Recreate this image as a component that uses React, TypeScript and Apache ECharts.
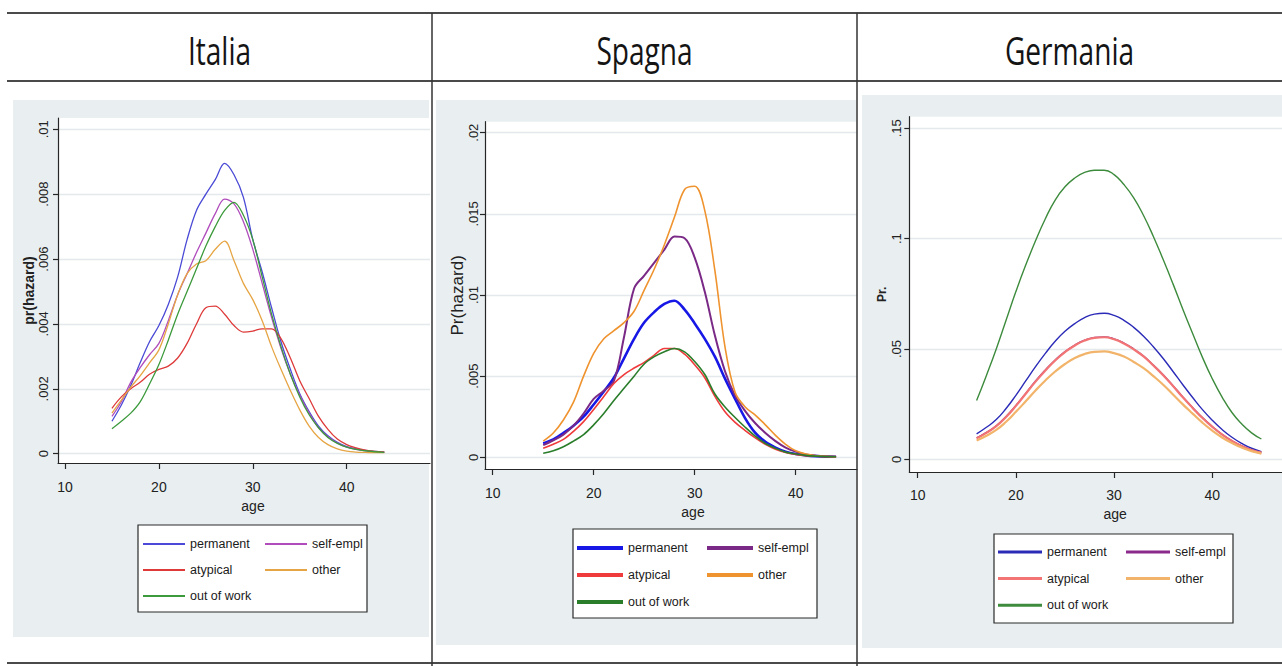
import React, { useEffect, useRef } from "react";
import * as echarts from "echarts";

// ---------------- DATA ----------------
const SERIES_NAMES = ["permanent", "self-empl", "atypical", "other", "out of work"];
const X_TICKS = [10, 20, 30, 40];

// Italia: hazard in thousandths (x 0.001), ages 15..44
const AGES_IT = [15, 16, 17, 18, 19, 20, 21, 22, 23, 24, 25, 26, 27, 28, 29, 30, 31, 32, 33, 34, 35, 36, 37, 38, 39, 40, 41, 42, 43, 44];
const IT_PERMANENT = [1.0, 1.5, 2.1, 2.8, 3.45, 3.95, 4.6, 5.45, 6.6, 7.5, 8.0, 8.45, 8.95, 8.6, 7.9, 6.6, 5.6, 4.5, 3.45, 2.6, 1.85, 1.3, 0.85, 0.55, 0.35, 0.22, 0.15, 0.1, 0.07, 0.05];
const IT_SELFEMPL = [1.15, 1.6, 2.2, 2.65, 3.05, 3.4, 4.1, 4.9, 5.55, 6.2, 6.8, 7.4, 7.85, 7.7, 7.15, 6.3, 5.25, 4.2, 3.25, 2.45, 1.8, 1.25, 0.8, 0.52, 0.33, 0.2, 0.13, 0.09, 0.06, 0.05];
const IT_ATYPICAL = [1.4, 1.75, 2.0, 2.2, 2.45, 2.6, 2.7, 2.95, 3.4, 4.0, 4.5, 4.55, 4.3, 3.95, 3.75, 3.78, 3.85, 3.85, 3.55, 2.95, 2.25, 1.7, 1.15, 0.75, 0.45, 0.28, 0.18, 0.11, 0.07, 0.05];
const IT_OTHER = [1.25, 1.65, 2.05, 2.4, 2.8, 3.2, 4.0, 4.9, 5.55, 5.85, 5.95, 6.3, 6.55, 5.95, 5.25, 4.75, 4.1, 3.3, 2.6, 1.95, 1.35, 0.85, 0.5, 0.28, 0.15, 0.08, 0.05, 0.04, 0.03, 0.03];
const IT_OUTOFWORK = [0.77, 1.0, 1.25, 1.6, 2.15, 2.75, 3.5, 4.3, 5.0, 5.7, 6.4, 7.0, 7.5, 7.75, 7.35, 6.6, 5.45, 4.3, 3.3, 2.45, 1.75, 1.2, 0.8, 0.5, 0.32, 0.2, 0.13, 0.09, 0.06, 0.04];
const IT_YTICKS = [0, 0.002, 0.004, 0.006, 0.008, 0.01];

// Spagna: hazard in thousandths (x 0.001), ages 15..44
const AGES_ES = [15, 16, 17, 18, 19, 20, 21, 22, 23, 24, 25, 26, 27, 28, 29, 30, 31, 32, 33, 34, 35, 36, 37, 38, 39, 40, 41, 42, 43, 44];
const ES_PERMANENT = [0.85, 1.1, 1.5, 1.95, 2.5, 3.25, 4.05, 4.9, 6.1, 7.3, 8.3, 8.95, 9.45, 9.65, 9.1, 8.25, 7.3, 6.2, 4.85, 3.6, 2.4, 1.5, 0.95, 0.6, 0.35, 0.2, 0.12, 0.07, 0.04, 0.03];
const ES_SELFEMPL = [0.75, 1.05, 1.4, 1.95, 2.7, 3.6, 4.1, 4.7, 7.4, 10.4, 11.2, 12.0, 12.8, 13.6, 13.5, 12.3, 10.2, 7.5, 5.3, 3.8, 2.85, 2.1, 1.5, 1.0, 0.6, 0.35, 0.18, 0.1, 0.06, 0.04];
const ES_ATYPICAL = [0.55, 0.8, 1.1, 1.6, 2.2, 2.95, 3.75, 4.55, 5.1, 5.5, 5.85, 6.3, 6.7, 6.7, 6.35, 5.7, 4.9, 3.75, 2.8, 2.15, 1.65, 1.2, 0.8, 0.5, 0.3, 0.18, 0.1, 0.06, 0.04, 0.03];
const ES_OTHER = [1.0, 1.5, 2.3, 3.4, 5.0, 6.4, 7.3, 7.8, 8.3, 9.0, 10.3, 11.6, 13.1, 14.8, 16.5, 16.7, 15.2, 11.5, 6.8, 4.0, 3.1, 2.6, 2.0, 1.35, 0.8, 0.4, 0.2, 0.1, 0.06, 0.04];
const ES_OUTOFWORK = [0.25, 0.4, 0.65, 1.0, 1.4, 2.0, 2.7, 3.5, 4.25, 5.0, 5.75, 6.2, 6.5, 6.7, 6.5, 5.9, 5.1, 3.9, 3.1, 2.45, 1.85, 1.3, 0.85, 0.55, 0.32, 0.2, 0.12, 0.07, 0.04, 0.03];
const ES_YTICKS = [0, 0.005, 0.01, 0.015, 0.02];

// Germania: probability in hundredths (x 0.01), ages 16..45
const AGES_DE = [16, 17, 18, 19, 20, 21, 22, 23, 24, 25, 26, 27, 28, 29, 30, 31, 32, 33, 34, 35, 36, 37, 38, 39, 40, 41, 42, 43, 44, 45];
const DE_PERMANENT = [1.15, 1.45, 1.8, 2.3, 2.9, 3.55, 4.2, 4.8, 5.35, 5.8, 6.15, 6.42, 6.58, 6.62, 6.52, 6.3, 5.98, 5.58, 5.1, 4.57, 3.98, 3.38, 2.8, 2.25, 1.77, 1.35, 1.0, 0.72, 0.5, 0.35];
const DE_SELFEMPL = [0.97, 1.22, 1.52, 1.94, 2.44, 2.99, 3.55, 4.05, 4.5, 4.88, 5.18, 5.4, 5.52, 5.55, 5.46, 5.27, 5.0, 4.68, 4.27, 3.83, 3.34, 2.83, 2.35, 1.89, 1.49, 1.13, 0.84, 0.61, 0.43, 0.31];
const DE_ATYPICAL = [0.95, 1.2, 1.5, 1.92, 2.42, 2.97, 3.52, 4.02, 4.48, 4.86, 5.16, 5.38, 5.5, 5.53, 5.44, 5.25, 4.98, 4.66, 4.25, 3.81, 3.32, 2.81, 2.33, 1.87, 1.47, 1.12, 0.83, 0.6, 0.42, 0.3];
const DE_OTHER = [0.85, 1.07, 1.33, 1.7, 2.15, 2.63, 3.12, 3.57, 3.98, 4.32, 4.59, 4.77, 4.87, 4.89, 4.81, 4.66, 4.41, 4.13, 3.77, 3.38, 2.94, 2.49, 2.07, 1.66, 1.3, 0.99, 0.74, 0.53, 0.37, 0.26];
const DE_OUTOFWORK = [2.66, 3.8, 5.0, 6.3, 7.6, 8.8, 9.9, 10.9, 11.75, 12.35, 12.75, 13.0, 13.1, 13.1, 12.9, 12.45, 11.85, 11.05, 10.1, 9.05, 7.95, 6.8, 5.7, 4.62, 3.65, 2.82, 2.12, 1.6, 1.2, 0.92];
const DE_YTICKS = [0, 0.05, 0.1, 0.15];

// ---------------- STYLE / LAYOUT ----------------
const SANS = "'Liberation Sans', Arial, sans-serif";
const PANEL_BG = "#e9eff1";
const GRID_LINE = "#e3e9ec";
const AXIS_COLOR = "#262626";

const panels = [
  {
    title: "Italia", cx: 219.5,
    ages: AGES_IT, scale: 0.001, smooth: 0.35,
    values: [IT_PERMANENT, IT_SELFEMPL, IT_ATYPICAL, IT_OTHER, IT_OUTOFWORK],
    colors: ["#4a4ad6", "#b04cbc", "#de3a3a", "#e6a544", "#3c9a3c"],
    widths: [1.3, 1.3, 1.3, 1.3, 1.3],
    legendWidth: 2,
    yTicks: IT_YTICKS, yName: "pr(hazard)", yNameBold: true, yNameSize: 14, yNameGap: 19,
    panel: { x: 13, y: 100, w: 416, h: 537 },
    grid: { left: 58, top: 118, width: 372, height: 345 },
    xMin: 9.2545, xMax: 48.87, yMin: -0.000287, yMax: 0.010348,
    yLabelMargin: 8, xLabelMargin: 17, ageGap: 36, agePad: 18,
    legendBox: { x: 138, y: 525, w: 229, h: 87 },
    legendCols: [143, 265], legendTop: 536, legendGap: 10, itemWidth: 42,
  },
  {
    title: "Spagna", cx: 644.5,
    ages: AGES_ES, scale: 0.001, smooth: 0.35,
    values: [ES_PERMANENT, ES_SELFEMPL, ES_ATYPICAL, ES_OTHER, ES_OUTOFWORK],
    colors: ["#1717e6", "#7a2a86", "#ef3b3b", "#ef932f", "#2a7d2a"],
    widths: [2.6, 2, 1.6, 1.6, 1.6],
    legendWidth: 4,
    yTicks: ES_YTICKS, yName: "Pr(hazard)", yNameBold: false, yNameSize: 17, yNameGap: 17,
    panel: { x: 436, y: 100, w: 420, h: 545 },
    grid: { left: 485, top: 121.7, width: 372, height: 347.3 },
    xMin: 9.238, xMax: 46.07, yMin: -0.000721, yMax: 0.020678,
    yLabelMargin: 5, xLabelMargin: 17, ageGap: 35, agePad: 44,
    legendBox: { x: 573, y: 529, w: 244, h: 89 },
    legendCols: [577, 707], legendTop: 540, legendGap: 11, itemWidth: 46,
  },
  {
    title: "Germania", cx: 1069.5,
    ages: AGES_DE, scale: 0.01, smooth: 0.5,
    values: [DE_PERMANENT, DE_SELFEMPL, DE_ATYPICAL, DE_OTHER, DE_OUTOFWORK],
    colors: ["#2b2bb8", "#8a2a8a", "#f27474", "#f2b46a", "#3d8b3d"],
    widths: [1.4, 1.4, 2.2, 2.2, 1.4],
    legendWidth: 3,
    yTicks: DE_YTICKS, yName: "Pr.", yNameBold: true, yNameSize: 12, yNameGap: 21,
    panel: { x: 862, y: 95, w: 420, h: 553 },
    grid: { left: 909.3, top: 116.7, width: 372.7, height: 355.3 },
    xMin: 9.145, xMax: 47.1, yMin: -0.005755, yMax: 0.15526,
    yLabelMargin: 6, xLabelMargin: 16, ageGap: 34, agePad: 39,
    legendBox: { x: 994, y: 534, w: 239, h: 89 },
    legendCols: [998, 1126], legendTop: 544, legendGap: 10.6, itemWidth: 44,
  },
];

function fmtY(v: number): string {
  if (Math.abs(v) < 1e-12) return "0";
  return String(+v.toFixed(4)).replace(/^0\./, ".");
}

function buildOption() {
  const grids: any[] = [];
  const xAxes: any[] = [];
  const yAxes: any[] = [];
  const series: any[] = [];
  const legends: any[] = [];
  const graphics: any[] = [];

  panels.forEach((p, pi) => {
    graphics.push({
      type: "rect", z: -10,
      shape: { x: p.panel.x, y: p.panel.y, width: p.panel.w, height: p.panel.h },
      style: { fill: PANEL_BG },
    });
    graphics.push({
      type: "text", z: 10, x: p.cx, y: 50, scaleX: 0.72,
      style: {
        text: p.title, fill: "#141414", align: "center", verticalAlign: "middle",
        fontSize: 39, fontFamily: "'Open Sans', 'Noto Sans', sans-serif",
      },
    });
    graphics.push({
      type: "rect", z: 3,
      shape: { x: p.legendBox.x, y: p.legendBox.y, width: p.legendBox.w, height: p.legendBox.h },
      style: { fill: "#ffffff", stroke: "#2a2a2a", lineWidth: 1.2 },
    });

    grids.push({
      left: p.grid.left, top: p.grid.top, width: p.grid.width, height: p.grid.height,
      show: true, backgroundColor: "#ffffff", borderWidth: 0, containLabel: false,
    });
    xAxes.push({
      type: "value", gridIndex: pi, min: p.xMin, max: p.xMax,
      name: "age", nameLocation: "middle", nameGap: p.ageGap,
      nameTextStyle: { fontFamily: SANS, fontSize: 14, color: "#222", padding: [0, 0, 0, p.agePad] },
      axisLine: { show: true, onZero: false, lineStyle: { color: AXIS_COLOR, width: 1.2 } },
      axisTick: { show: true, inside: false, length: 6, customValues: X_TICKS, lineStyle: { color: AXIS_COLOR, width: 1.2 } },
      axisLabel: { customValues: X_TICKS, margin: p.xLabelMargin, fontFamily: SANS, fontSize: 14, color: "#222" },
      splitLine: { show: false },
    });
    yAxes.push({
      type: "value", gridIndex: pi, min: p.yMin, max: p.yMax,
      name: p.yName, nameLocation: "middle", nameRotate: 90, nameGap: p.yNameGap,
      nameTextStyle: { fontFamily: SANS, fontSize: p.yNameSize, fontWeight: p.yNameBold ? "bold" : "normal", color: "#222" },
      axisLine: { show: true, onZero: false, lineStyle: { color: AXIS_COLOR, width: 1.2 } },
      axisTick: { show: true, inside: false, length: 5, customValues: p.yTicks, lineStyle: { color: AXIS_COLOR, width: 1.2 } },
      axisLabel: { customValues: p.yTicks, rotate: 90, margin: p.yLabelMargin, fontFamily: SANS, fontSize: 13, color: "#222", formatter: fmtY },
      splitLine: { show: true, lineStyle: { color: GRID_LINE, width: 1.3 } },
    });

    SERIES_NAMES.forEach((name, si) => {
      series.push({
        type: "line", name, xAxisIndex: pi, yAxisIndex: pi,
        data: p.ages.map((a, i) => [a, p.values[si][i] * p.scale]),
        symbol: "none", showSymbol: false, smooth: p.smooth,
        lineStyle: { color: p.colors[si], width: p.widths[si] },
        itemStyle: { color: p.colors[si] },
        z: 2 + si * 0.01,
      });
    });

    const colItems = [[0, 2, 4], [1, 3]];
    colItems.forEach((idxs, ci) => {
      legends.push({
        orient: "vertical", left: p.legendCols[ci], top: p.legendTop,
        padding: 0, itemGap: p.legendGap, itemWidth: p.itemWidth, itemHeight: p.legendWidth,
        icon: "rect", selectedMode: false, z: 5,
        textStyle: { fontFamily: SANS, fontSize: 12.5, color: "#1a1a1a", lineHeight: 16 },
        data: idxs.map((k) => ({
          name: SERIES_NAMES[k],
          itemStyle: { color: p.colors[k] },
        })),
      });
    });
  });

  // table lines
  const lineStyle = { stroke: "#4a4a4a", lineWidth: 2 };
  graphics.push({ type: "line", z: 10, shape: { x1: 7, y1: 13, x2: 1282, y2: 13 }, style: lineStyle });
  graphics.push({ type: "line", z: 10, shape: { x1: 7, y1: 81, x2: 1282, y2: 81 }, style: lineStyle });
  graphics.push({ type: "line", z: 10, shape: { x1: 7, y1: 663, x2: 1282, y2: 663 }, style: lineStyle });
  graphics.push({ type: "line", z: 10, shape: { x1: 432, y1: 13, x2: 432, y2: 666 }, style: { stroke: "#333", lineWidth: 1.5 } });
  graphics.push({ type: "line", z: 10, shape: { x1: 857, y1: 13, x2: 857, y2: 666 }, style: { stroke: "#333", lineWidth: 1.5 } });

  return {
    animation: false,
    backgroundColor: "#ffffff",
    grid: grids,
    xAxis: xAxes,
    yAxis: yAxes,
    legend: legends,
    series,
    graphic: { elements: graphics },
  };
}

export default function App() {
  const ref = useRef<HTMLDivElement>(null);
  useEffect(() => {
    if (!ref.current) return;
    const chart = echarts.init(ref.current, undefined, { renderer: "svg" });
    chart.setOption(buildOption() as any);
    return () => chart.dispose();
  }, []);
  return (
    <div
      ref={ref}
      style={{ position: "fixed", left: 0, top: 0, width: 1282, height: 666, background: "#fff" }}
    />
  );
}
